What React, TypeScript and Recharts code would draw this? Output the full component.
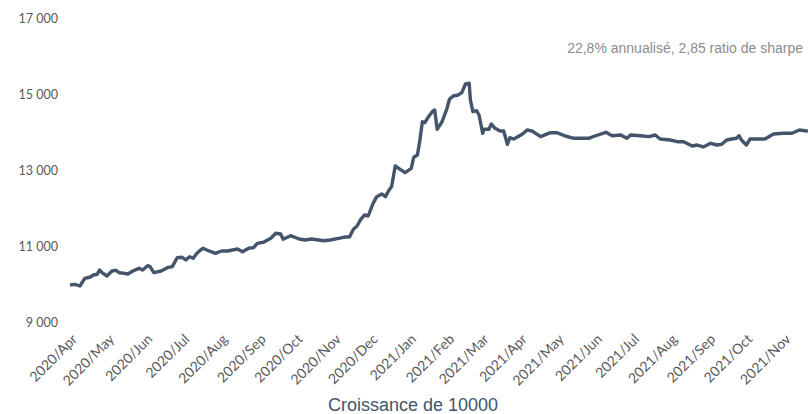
import React from 'react';
import { LineChart, Line, XAxis, YAxis } from 'recharts';

const dates = [
  '2020-03-27', '2020-03-31', '2020-04-04', '2020-04-08', '2020-04-12', '2020-04-15', '2020-04-18', '2020-04-20',
  '2020-04-22', '2020-04-26', '2020-04-30', '2020-05-03', '2020-05-06', '2020-05-10', '2020-05-13', '2020-05-17',
  '2020-05-22', '2020-05-25', '2020-05-29', '2020-05-31', '2020-06-03', '2020-06-09', '2020-06-14', '2020-06-18',
  '2020-06-22', '2020-06-26', '2020-06-29', '2020-07-02', '2020-07-05', '2020-07-08', '2020-07-11', '2020-07-13',
  '2020-07-16', '2020-07-23', '2020-07-28', '2020-08-02', '2020-08-10', '2020-08-14', '2020-08-19', '2020-08-23',
  '2020-08-26', '2020-08-31', '2020-09-06', '2020-09-10', '2020-09-14', '2020-09-16', '2020-09-22', '2020-09-29',
  '2020-10-04', '2020-10-09', '2020-10-19', '2020-10-24', '2020-10-31', '2020-11-04', '2020-11-09', '2020-11-12',
  '2020-11-15', '2020-11-18', '2020-11-21', '2020-11-24', '2020-11-28', '2020-12-01', '2020-12-05', '2020-12-08',
  '2020-12-11', '2020-12-13', '2020-12-16', '2020-12-20', '2020-12-24', '2020-12-29', '2020-12-31', '2021-01-03',
  '2021-01-05', '2021-01-07', '2021-01-09', '2021-01-12', '2021-01-15', '2021-01-17', '2021-01-19', '2021-01-23',
  '2021-01-27', '2021-01-29', '2021-02-01', '2021-02-05', '2021-02-08', '2021-02-11', '2021-02-14', '2021-02-15',
  '2021-02-17', '2021-02-20', '2021-02-22', '2021-02-25', '2021-02-26', '2021-03-02', '2021-03-04', '2021-03-07',
  '2021-03-11', '2021-03-14', '2021-03-17', '2021-03-19', '2021-03-22', '2021-03-24', '2021-03-29', '2021-04-02',
  '2021-04-06', '2021-04-13', '2021-04-21', '2021-04-26', '2021-05-03', '2021-05-10', '2021-05-22', '2021-05-27',
  '2021-06-05', '2021-06-10', '2021-06-17', '2021-06-22', '2021-06-25', '2021-07-03', '2021-07-10', '2021-07-15',
  '2021-07-19', '2021-07-27', '2021-08-02', '2021-08-07', '2021-08-14', '2021-08-18', '2021-08-23', '2021-08-29',
  '2021-09-03', '2021-09-07', '2021-09-11', '2021-09-15', '2021-09-19', '2021-09-21', '2021-09-23', '2021-09-27',
  '2021-09-30', '2021-10-12', '2021-10-19', '2021-10-27', '2021-11-03', '2021-11-09', '2021-11-15', '2021-11-16',
];

const growth = [
  10000, 10018, 9974, 10176, 10203, 10263, 10282, 10395,
  10324, 10237, 10368, 10387, 10324, 10308, 10289, 10368,
  10439, 10395, 10508, 10482, 10324, 10368, 10455, 10482,
  10718, 10729, 10658, 10745, 10703, 10834, 10921, 10966,
  10921, 10834, 10895, 10895, 10947, 10876, 10966, 10982,
  11097, 11124, 11229, 11361, 11342, 11203, 11297, 11211,
  11184, 11211, 11166, 11184, 11229, 11255, 11271, 11466,
  11553, 11729, 11842, 11816, 12150, 12324, 12395, 12324,
  12500, 12587, 13132, 13045, 12955, 13071, 13361, 13421,
  13816, 14297, 14271, 14429, 14561, 14605, 14097, 14297,
  14650, 14887, 14974, 15000, 15061, 15290, 15308, 14868,
  14561, 14587, 14474, 13992, 14097, 14097, 14237, 14124,
  14053, 14053, 13703, 13876, 13842, 13876, 13966, 14079,
  14053, 13903, 14008, 14008, 13921, 13861, 13861, 13921,
  14018, 13929, 13947, 13861, 13947, 13929, 13903, 13947,
  13842, 13816, 13771, 13771, 13658, 13684, 13632, 13729,
  13684, 13703, 13816, 13842, 13861, 13929, 13816, 13684,
  13842, 13842, 13974, 13992, 13992, 14079, 14053, 14040,
];

const monthTicks = [
  '2020-04-01', '2020-05-01', '2020-06-01', '2020-07-01', '2020-08-01', '2020-09-01', '2020-10-01',
  '2020-11-01', '2020-12-01', '2021-01-01', '2021-02-01', '2021-03-01', '2021-04-01', '2021-05-01',
  '2021-06-01', '2021-07-01', '2021-08-01', '2021-09-01', '2021-10-01', '2021-11-01',
];

const monthLabels = [
  '2020/Apr', '2020/May', '2020/Jun', '2020/Jul', '2020/Aug', '2020/Sep', '2020/Oct',
  '2020/Nov', '2020/Dec', '2021/Jan', '2021/Feb', '2021/Mar', '2021/Apr', '2021/May',
  '2021/Jun', '2021/Jul', '2021/Aug', '2021/Sep', '2021/Oct', '2021/Nov',
];

const yTicks = [9000, 11000, 13000, 15000, 17000];

const data = dates.map((d, i) => ({ t: Date.parse(d), value: growth[i] }));
const tickTimes = monthTicks.map((d) => Date.parse(d));
const labelFor = (t: number) => monthLabels[tickTimes.indexOf(t)] ?? '';
const fmtThousands = (v: number) => String(v).replace(/\B(?=(\d{3})+(?!\d))/g, ' ');

const axisGrey = '#595959';

export default function App() {
  // fixed box covering the whole window, so nothing can make the page scroll
  return (
    <div style={{ position: 'fixed', left: 0, top: 0, width: 808, height: 414, overflow: 'hidden', background: '#fff' }}>
      <div style={{ position: 'absolute', left: 8, top: 8 }}>
        <LineChart width={800} height={406} data={data} margin={{ top: 11, right: 0, left: 0, bottom: 0 }}>
          <XAxis
            dataKey="t"
            type="number"
            domain={['dataMin', 'dataMax']}
            ticks={tickTimes}
            tickFormatter={labelFor}
            interval={0}
            angle={-45}
            textAnchor="end"
            height={91}
            axisLine={false}
            tickLine={false}
            tick={{ fontFamily: 'Lato, sans-serif', fontSize: 14, fill: axisGrey, dx: -5, dy: 2 }}
          />
          <YAxis
            domain={[9000, 17000]}
            ticks={yTicks}
            tickFormatter={fmtThousands}
            width={62}
            axisLine={false}
            tickLine={false}
            tickMargin={6}
            tick={{ fontFamily: 'Lato, sans-serif', fontSize: 12.5, fill: axisGrey }}
          />
          <Line
            type="linear"
            dataKey="value"
            stroke="#44546A"
            strokeWidth={3.4}
            strokeLinejoin="round"
            dot={false}
            isAnimationActive={false}
          />
        </LineChart>
      </div>
      <div
        style={{
          position: 'absolute',
          top: 41,
          right: 5,
          fontFamily: 'Liberation Sans, Arial, sans-serif',
          fontSize: 14,
          lineHeight: '14px',
          color: '#8C8C8C',
          whiteSpace: 'nowrap',
        }}
      >
        22,8% annualisé, 2,85 ratio de sharpe
      </div>
      <div
        style={{
          position: 'absolute',
          top: 396,
          left: 413,
          transform: 'translateX(-50%)',
          fontFamily: 'Liberation Sans, Arial, sans-serif',
          fontSize: 18,
          lineHeight: '18px',
          color: '#44546A',
          whiteSpace: 'nowrap',
        }}
      >
        Croissance de 10000
      </div>
    </div>
  );
}
